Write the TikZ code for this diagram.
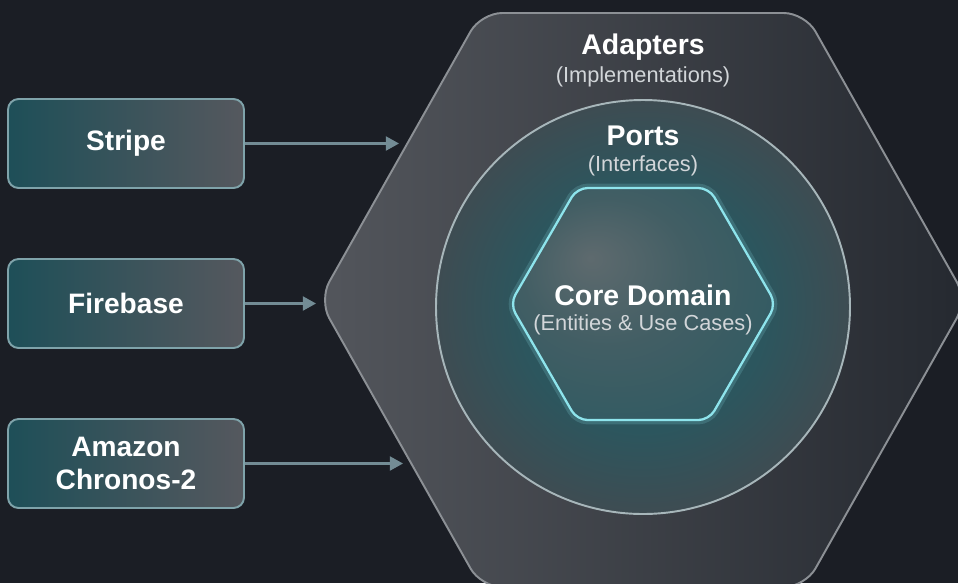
\documentclass[tikz,border=0pt]{standalone}
\usepackage{fontspec}
\setmainfont{Liberation Sans}
\usepackage{tikz}
\usetikzlibrary{arrows.meta,shapes}

\definecolor{bgdark}{HTML}{1B1E25}
\definecolor{boxteal}{HTML}{1E4F58}
\definecolor{boxmid}{HTML}{2C3F46}
\definecolor{boxgrey}{HTML}{55585E}
\definecolor{boxline}{HTML}{7FA3AA}
\definecolor{linkgrey}{HTML}{738C95}
\definecolor{hexlight}{HTML}{53565C}
\definecolor{hexdark}{HTML}{252930}
\definecolor{hexline}{HTML}{8C9095}
\definecolor{portline}{HTML}{A7B6BA}
\definecolor{coreline}{HTML}{8EE4EC}
\definecolor{subgrey}{HTML}{D2D6D9}

\pgfdeclareradialshading{portglow}{\pgfpoint{0bp}{0bp}}{%
  color(0bp)=(rgb,255:red,48;green,94;blue,102);
  color(15bp)=(rgb,255:red,44;green,86;blue,94);
  color(25bp)=(rgb,255:red,62;green,76;blue,82);
  color(35bp)=(rgb,255:red,88;green,92;blue,97);
  color(50bp)=(rgb,255:red,88;green,92;blue,97)}

\pgfdeclareradialshading{coreglow}{\pgfpoint{-10bp}{10bp}}{%
  color(0bp)=(rgb,255:red,94;green,106;blue,110);
  color(16bp)=(rgb,255:red,66;green,94;blue,100);
  color(35bp)=(rgb,255:red,46;green,90;blue,98);
  color(50bp)=(rgb,255:red,46;green,90;blue,98)}

\tikzset{
  adapter/.style={draw=boxline, line width=1.1pt, rounded corners=6pt,
    left color=boxteal, middle color=boxmid, right color=boxgrey, text=white,
    minimum width=4.72cm, minimum height=1.78cm, align=center,
    font=\bfseries\fontsize{16}{18.5}\selectfont},
  link/.style={draw=linkgrey, line width=1.2pt,
    -{Triangle[length=7.5pt,width=8pt]}},
  title/.style={text=white, font=\bfseries\fontsize{16.2}{19}\selectfont},
  subtitle/.style={text=subgrey, font=\fontsize{12.4}{15}\selectfont}
}

\begin{document}
\begin{tikzpicture}[x=0.02cm, y=-0.02cm]
    \fill[bgdark] (0,0) rectangle (958,583);
    \useasboundingbox (0,0) rectangle (958,583);
    \clip (0,0) rectangle (958,583);

    \draw[hexline, line width=1.1pt, rounded corners=12pt,
      left color=hexlight, right color=hexdark]
      (643,13) -- (805,13) -- (967,300) -- (805,587) -- (481,587)
      -- (319,300) -- (481,13) -- cycle;
    \draw[portline, line width=1.1pt, shading=portglow]
      (643,307) circle [radius=207];
    \draw[coreline, line width=5pt, opacity=.18, rounded corners=6pt]
      (643,188) -- (709,188) -- (776,304) -- (709,420) -- (577,420)
      -- (510,304) -- (577,188) -- cycle;
    \draw[coreline, line width=1.3pt, rounded corners=6pt, shading=coreglow]
      (643,188) -- (709,188) -- (776,304) -- (709,420) -- (577,420)
      -- (510,304) -- (577,188) -- cycle;

    \node[title] (adapters) at (643,47) {Adapters};
    \node[subtitle] (impl) at (643,77) {(Implementations)};
    \node[title] (ports) at (643,136) {Ports};
    \node[subtitle] (ifaces) at (643,166) {(Interfaces)};
    \node[title] (core) at (643,295) {Core Domain};
    \node[subtitle] (cases) at (643,325) {(Entities \& Use Cases)};

    \node[adapter] (stripe) at (126,143.5) {Stripe};
    \node[adapter] (firebase) at (126,303.5) {Firebase};
    \node[adapter] (amazon) at (126,463.5) {Amazon\\Chronos-2};

    \coordinate (stripein) at (399,143.5);
    \coordinate (firebasein) at (316,303.5);
    \coordinate (amazonin) at (403,463.5);

    \draw[link] (stripe) -- (stripein);
    \draw[link] (firebase) -- (firebasein);
    \draw[link] (amazon) -- (amazonin);
\end{tikzpicture}
\end{document}
